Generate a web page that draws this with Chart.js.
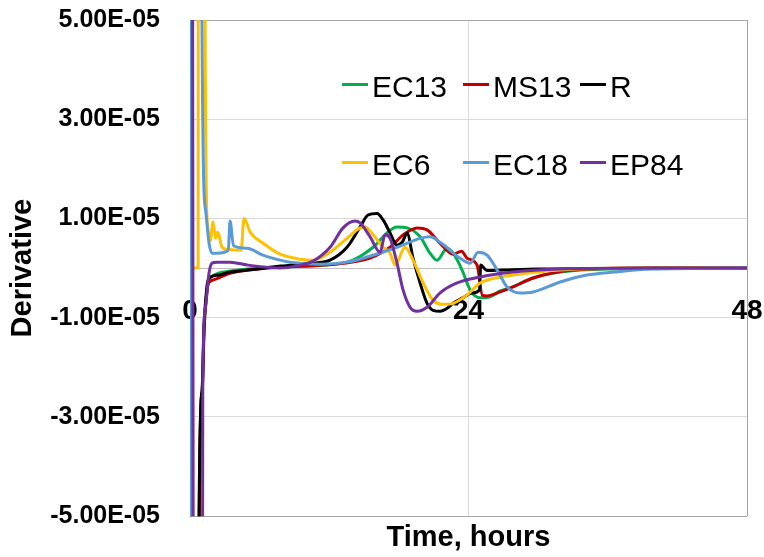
<!DOCTYPE html>
<html>
<head>
<meta charset="utf-8">
<script src="https://cdn.jsdelivr.net/npm/chart.js@4.4.1/dist/chart.umd.min.js"></script>
<style>
body{margin:0;background:#fff}
#wrap{position:relative;width:764px;height:557px}
.lg{position:absolute;font:30px/30px "Liberation Sans",Arial,sans-serif;color:#000;white-space:nowrap}
.lg i{position:absolute;left:0;top:11px;width:26px;height:3px}
.lg span{position:absolute;left:30px;top:0}
</style>
</head>
<body>
<div id="wrap">
<canvas id="derivChart" width="764" height="557"></canvas>
</div>
<script>
/* =====================================================
DATA (time in hours, derivative values)
===================================================== */

const xTicks=[0,24,48]
const xTickLabels=["0","24","48"]
const yTicks=[-5e-5,-3e-5,-1e-5,1e-5,3e-5,5e-5]
const yTickLabels=["-5.00E-05","-3.00E-05","-1.00E-05","1.00E-05","3.00E-05","5.00E-05"]

const seriesNames=["EC13","MS13","R","EC6","EC18","EP84"]
const seriesColors=["#00b050","#c00000","#000000","#ffc000","#5b9bd5","#7030a0"]

const tEC13=[0,0.74,0.8,1.04,1.22,1.38,1.55,2,3.5,5,7.76,13.53,15.78,16.98,17.84,18.71,19.83,20.69,21.29,22.16,22.67,23.45,24.14,25.0,25.86,26.72,27.33,29.57,31.9,36,48]
const vEC13=[-3e-4,-3e-4,-5e-5,-2.5e-5,-1.2e-5,-0.65e-5,-0.3e-5,-0.15e-5,-0.06e-5,-0.02e-5,0.02e-5,0.12e-5,0.42e-5,0.71e-5,0.83e-5,0.81e-5,0.63e-5,0.3e-5,0.16e-5,0.4e-5,0.3e-5,-0.04e-5,-0.44e-5,-0.6e-5,-0.58e-5,-0.46e-5,-0.42e-5,-0.2e-5,-0.08e-5,-0.02e-5,0]

const tMS13=[0,0.08,0.74,0.8,1.04,1.22,1.38,1.6,2.0,3.5,5,7.76,14.91,17.24,18.36,19.57,20.43,21.55,22.67,23.4,23.88,24.74,25.2,25.6,26.5,27.84,29.57,33.0,40,48]
const vMS13=[3e-4,-3e-4,-3e-4,-5e-5,-2.5e-5,-1.2e-5,-0.65e-5,-0.3e-5,-0.24e-5,-0.1e-5,-0.04e-5,0.02e-5,0.16e-5,0.42e-5,0.67e-5,0.81e-5,0.77e-5,0.5e-5,0.28e-5,0.34e-5,0.2e-5,0.06e-5,-0.55e-5,-0.56e-5,-0.5e-5,-0.38e-5,-0.2e-5,-0.04e-5,0,0]

const tR=[0,0.72,0.78,1.03,1.2,1.35,1.5,1.78,2.5,3.5,5,7.8,10.6,12.07,13.53,14.66,15.34,16.12,16.64,17.24,17.84,18.28,18.71,19.22,19.83,20.43,20.95,21.55,22.16,22.67,23.5,24.3,24.95,25.05,25.6,27,30,35,40,48]
const vR=[-3e-4,-3e-4,-5e-5,-2.5e-5,-1.2e-5,-0.65e-5,-0.3e-5,-0.18e-5,-0.14e-5,-0.08e-5,-0.04e-5,0.04e-5,0.1e-5,0.16e-5,0.42e-5,0.83e-5,1.07e-5,1.1e-5,0.97e-5,0.71e-5,0.46e-5,0.52e-5,0.7e-5,0.2e-5,-0.3e-5,-0.71e-5,-0.85e-5,-0.87e-5,-0.81e-5,-0.71e-5,-0.6e-5,-0.5e-5,-0.44e-5,0.06e-5,-0.05e-5,-0.04e-5,-0.02e-5,-0.01e-5,0,0]

const tEC6=[0,0.7,0.76,1.25,1.3,1.5,1.75,1.98,2.2,2.4,2.76,3.2,4.4,4.66,5.2,6.3,7.76,9.48,10.6,12.07,13.53,14.66,15.09,15.78,16.64,17.24,17.67,18.53,19.22,20.09,20.95,21.81,22.67,23.88,25.0,26.72,28.45,31.9,40,48]
const vEC6=[0,0,3e-4,3e-4,5e-5,0.9e-5,0.55e-5,0.93e-5,0.6e-5,0.72e-5,0.42e-5,0.38e-5,0.36e-5,1.0e-5,0.72e-5,0.5e-5,0.28e-5,0.18e-5,0.16e-5,0.32e-5,0.6e-5,0.81e-5,0.83e-5,0.67e-5,0.42e-5,0.3e-5,0.06e-5,0.42e-5,0.16e-5,-0.3e-5,-0.65e-5,-0.73e-5,-0.71e-5,-0.54e-5,-0.3e-5,-0.18e-5,-0.12e-5,-0.04e-5,0,0]

const tEC18=[0,0.08,0.95,1.03,1.34,1.64,1.9,2.33,3.3,3.45,3.75,4.91,6.29,7.76,8.62,11.2,13.53,15.78,17.84,19.83,20.69,21.55,23.28,24.14,24.83,25.6,26.47,27.33,28.45,29.57,31.9,34.2,36.5,39.7,48]
const vEC18=[-3e-4,3e-4,3e-4,5e-5,1.17e-5,0.5e-5,0.3e-5,0.3e-5,0.36e-5,0.95e-5,0.45e-5,0.4e-5,0.26e-5,0.16e-5,0.12e-5,0.08e-5,0.12e-5,0.26e-5,0.42e-5,0.6e-5,0.63e-5,0.52e-5,0.2e-5,0.1e-5,0.32e-5,0.26e-5,-0.04e-5,-0.38e-5,-0.5e-5,-0.48e-5,-0.28e-5,-0.14e-5,-0.08e-5,-0.02e-5,0]

const tEP84=[0,0.05,0.45,0.95,1.1,1.3,1.64,1.9,2.33,3.45,5,7.76,9.48,10.6,12.07,13.19,14.22,14.66,15.52,16.38,16.81,17.24,17.84,18.36,18.97,19.57,20.43,21.55,23.02,25.0,27.84,31.9,40,48]
const vEP84=[3e-4,3e-4,-3e-4,-3e-4,-2.5e-5,-0.85e-5,-0.1e-5,0.1e-5,0.12e-5,0.12e-5,0.06e-5,0,0.06e-5,0.14e-5,0.42e-5,0.81e-5,0.95e-5,0.91e-5,0.63e-5,0.32e-5,0.67e-5,0.6e-5,0.1e-5,-0.44e-5,-0.79e-5,-0.87e-5,-0.79e-5,-0.5e-5,-0.3e-5,-0.18e-5,-0.08e-5,-0.02e-5,0,0]

const seriesT=[tEC13,tMS13,tR,tEC6,tEC18,tEP84]
const seriesV=[vEC13,vMS13,vR,vEC6,vEC18,vEP84]


/* =====================================================
HTML LEGEND (inside plot)
===================================================== */

const legendPos=[[342,72],[463,72],[580,72],[342,150],[463,150],[580,150]]
const wrap=document.getElementById("wrap")

seriesNames.forEach((name,i)=>{
const d=document.createElement("div")
d.className="lg"
d.style.left=legendPos[i][0]+"px"
d.style.top=legendPos[i][1]+"px"
d.innerHTML=`<i style="background:${seriesColors[i]}"></i><span>${name}</span>`
wrap.appendChild(d)
})


/* =====================================================
CHART
===================================================== */

const FONT="'Liberation Sans', Arial, sans-serif"

const datasets=seriesNames.map((name,i)=>({
label:name,
data:seriesT[i].map((t,j)=>({x:t,y:seriesV[i][j]})),
borderColor:seriesColors[i],
backgroundColor:seriesColors[i],
borderWidth:3,
pointRadius:0,
fill:false,
cubicInterpolationMode:"monotone",
order:seriesNames.length-i
}))

new Chart(document.getElementById("derivChart"),{
type:"line",
data:{datasets},
options:{
responsive:false,
animation:false,
layout:{padding:{top:20,right:17,left:0,bottom:0}},
plugins:{
legend:{display:false},
tooltip:{enabled:false},
title:{
display:true,
text:"Time, hours",
position:"bottom",
fullSize:false,
color:"#000",
font:{family:FONT,size:29,weight:"bold"},
padding:{top:4,bottom:2}
}
},
scales:{
x:{
type:"linear",
position:{y:0},
min:0,
max:48,
afterBuildTicks:s=>{s.ticks=xTicks.map(v=>({value:v}))},
ticks:{
color:"#000",
font:{family:FONT,size:28,weight:"bold"},
padding:0,
maxRotation:0,
callback:(v,i)=>xTickLabels[i]
},
grid:{
drawTicks:true,
tickLength:26,
tickColor:"rgba(0,0,0,0)",
color:c=>(c.tick && c.tick.value===24)?"#d9d9d9":"#a6a6a6"
},
border:{color:"#bfbfbf",width:1}
},
y:{
type:"linear",
position:"left",
min:-5e-5,
max:5e-5,
afterBuildTicks:s=>{s.ticks=yTicks.map(v=>({value:v}))},
afterFit:s=>{s.width=190},
ticks:{
color:"#000",
font:{family:FONT,size:25,weight:"bold"},
padding:0,
callback:(v,i)=>yTickLabels[i]
},
grid:{
drawTicks:true,
tickLength:30,
tickColor:"rgba(0,0,0,0)",
color:c=>(c.tick && Math.abs(c.tick.value)===5e-5)?"#a6a6a6":"#d9d9d9"
},
border:{color:"#a6a6a6",width:1},
title:{
display:true,
text:"Derivative",
color:"#000",
font:{family:FONT,size:29,weight:"bold"},
padding:{top:6,bottom:0}
}
}
}
}
})
</script>
</body>
</html>
